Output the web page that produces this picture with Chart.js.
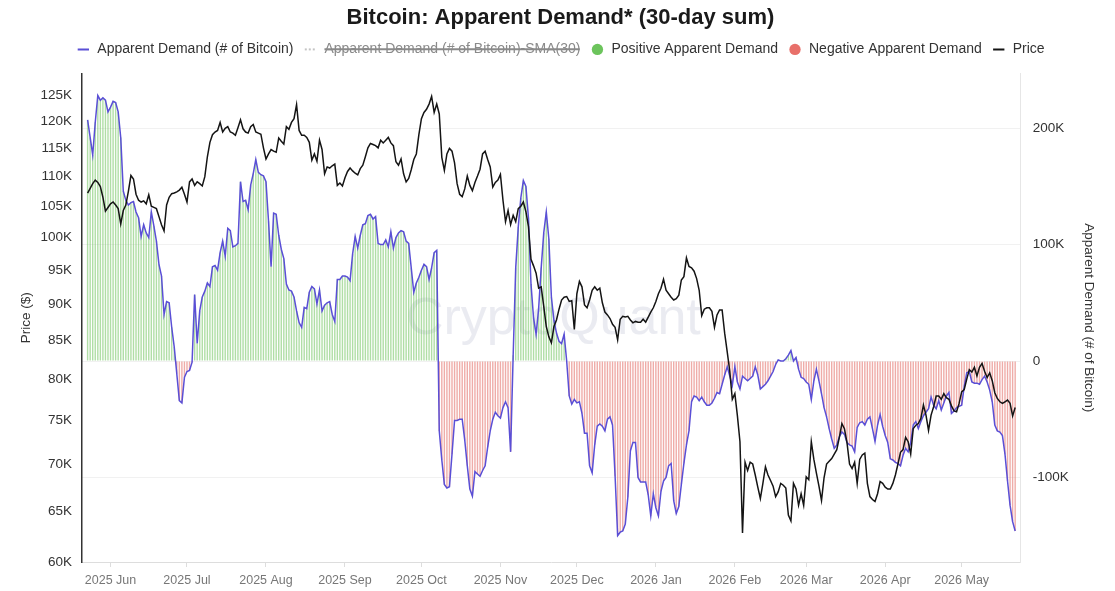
<!DOCTYPE html>
<html>
<head>
<meta charset="utf-8">
<title>Bitcoin: Apparent Demand* (30-day sum)</title>
<script src="https://cdn.jsdelivr.net/npm/chart.js@4.4.1/dist/chart.umd.min.js"></script>
<style>
  html, body { margin: 0; padding: 0; background: #fff; }
  #wrap { width: 1115px; height: 591px; }
</style>
</head>
<body>
<div id="wrap"><canvas id="demandChart"></canvas></div>
<script>
// first day of the series, one value per day after it
const startDay = "2025-05-23";

// month ticks on the x axis
const monthStarts = ["2025-06-01", "2025-07-01", "2025-08-01", "2025-09-01", "2025-10-01", "2025-11-01",
    "2025-12-01", "2026-01-01", "2026-02-01", "2026-03-01", "2026-04-01", "2026-05-01"];
const monthLabels = ["2025 Jun", "2025 Jul", "2025 Aug", "2025 Sep", "2025 Oct", "2025 Nov",
    "2025 Dec", "2026 Jan", "2026 Feb", "2026 Mar", "2026 Apr", "2026 May"];

// tick values (thousands)
const priceTicks = [60, 65, 70, 75, 80, 85, 90, 95, 100, 105, 110, 115, 120, 125];
const demandTicks = [-100, 0, 100, 200];

// Apparent demand, 30-day sum, thousands of BTC (daily)
const demandK = [
    207, 192, 177, 205, 228, 224, 226, 224, 214, 218,
    223, 222, 214, 192, 146, 138, 134, 136, 137, 128,
    123, 107, 117, 110, 106, 128, 116, 103, 83, 73,
    40, 51, 50, 29, 12, -11, -34, -36, -14, -9,
    -8, -1, 57, 15, 43, 55, 60, 67, 64, 81,
    82, 78, 93, 103, 90, 114, 112, 98, 99, 101,
    154, 137, 138, 130, 151, 161, 173, 162, 160, 159,
    154, 120, 81, 127, 126, 108, 96, 88, 66, 61,
    60, 55, 43, 33, 29, 46, 45, 59, 64, 62,
    49, 61, 43, 48, 50, 51, 40, 34, 70, 70,
    73, 73, 72, 69, 92, 107, 97, 108, 117, 118,
    125, 126, 122, 124, 101, 100, 100, 104, 98, 111,
    97, 106,
    110, 112, 111, 103, 101, 80, 59, 67, 72, 78,
    83, 81, 70, 80, 93, 95, -60, -85, -106, -109,
    -108, -80, -51, -51, -50, -50, -68, -90, -110, -116,
    -95, -97, -99, -94, -90, -74, -60, -50, -44, -47,
    -49, -40, -35, -40, -78, 5, 80, 115, 140, 155,
    150, 123, 66, 37, 23, 45, 80, 110, 128, 105,
    55, 35, 24, 17, 15, 23, 0, -30, -37, -33,
    -36, -35, -45, -62, -62, -90, -96, -72, -56, -54,
    -56, -60, -50, -48, -55, -99, -150, -147, -146, -140,
    -117, -77, -70, -70, -100, -104, -104, -104, -115, -133,
    -114, -126, -133, -112, -103, -100, -90, -88, -120, -131,
    -125, -106, -88, -72, -60, -35, -30, -31, -34, -31,
    -35, -38,
    -38, -36, -32, -27, -28, -20, -12, -5, -13, -21,
    -5, -18, -24, -13, -15, -17, -15, -13, -5, -12,
    -24, -22, -20, -17, -13, -9, -3, 1, 0, 0,
    2, 5, 9, 0, 3, -7, -14, -15, -18, -20,
    -33, -17, -7, -17, -28, -40, -48, -58, -67, -75,
    -72, -65, -61, -63, -70, -72, -73, -78, -57, -53,
    -52, -55, -50, -48, -58, -69, -55, -46, -56, -64,
    -70, -84, -85, -87, -88, -90, -81, -75, -78, -70,
    -55, -52, -58, -52, -47, -44, -41, -31, -38, -41,
    -34, -42, -36, -30, -27, -45, -43, -40, -39, -38,
    -22, -10, -9, -18, -19, -19, -20, -16, -13, -18,
    -25, -35, -55, -60, -61, -64, -80, -103, -124, -138,
    -146
];

// BTC price, thousands of USD (daily)
const priceK = [
    107.2, 108.0, 108.8, 109.4, 109.0, 108.3, 106.5, 104.2, 104.8, 105.4,
    105.7, 105.2, 104.6, 102.1, 104.3, 105.2, 107.5, 110.2, 109.6, 107.0,
    106.0, 105.7, 105.9, 105.4, 106.9, 105.0, 104.8, 104.6, 103.3, 102.0,
    101.0, 105.2, 106.5, 107.1, 107.2, 107.4, 107.7, 108.2, 107.0, 105.7,
    109.1, 109.6, 108.5, 109.1, 108.8, 108.4, 110.0, 113.5, 116.1, 117.5,
    118.0, 118.3, 119.8, 118.0, 118.7, 119.0, 118.0, 117.8, 117.4, 118.8,
    120.3, 118.6, 118.0, 117.8, 119.0, 119.4, 118.0, 117.8, 117.6, 115.1,
    113.1, 114.0, 114.8, 114.5, 114.3, 116.9, 116.3, 115.8, 119.0, 118.5,
    119.8, 120.5, 123.2, 118.3, 117.4, 117.4, 117.0, 116.1, 112.9, 114.0,
    112.7, 116.5, 114.8, 110.5, 111.7, 111.5, 111.9, 112.2, 108.5, 108.9,
    108.4, 109.8, 110.9, 111.5, 111.0, 110.6, 110.3, 111.4, 112.0, 113.5,
    115.1, 115.9, 115.7, 115.5, 115.1, 116.5, 116.0, 116.5, 117.0, 116.0,
    115.5, 112.6,
    112.0, 113.1, 110.5, 109.1, 109.7, 111.2, 113.0, 114.0, 117.5, 120.5,
    121.7, 122.3, 123.3, 124.8, 121.7, 123.3, 121.4, 113.4, 111.1, 114.0,
    115.0, 114.5, 112.4, 108.8, 107.0, 106.6, 107.9, 110.1, 108.5, 107.6,
    109.0, 110.1, 111.3, 114.0, 114.5, 113.0, 111.7, 108.2, 109.0, 109.4,
    110.4, 106.0, 102.5, 104.3, 102.0, 103.5, 102.5, 104.6, 105.0, 105.7,
    104.1, 101.7, 96.6, 95.6, 94.5, 92.3, 92.5, 89.7, 86.9, 85.5,
    84.7, 86.9, 87.8, 89.3, 90.6, 91.0, 91.1, 90.4, 90.5, 86.5,
    91.5, 93.3, 92.5, 89.9, 89.5, 90.6, 92.0, 92.5, 92.0, 92.3,
    90.2, 88.9, 88.5, 88.0, 87.2, 86.8, 85.1, 87.9, 88.3, 88.2,
    88.3, 87.8, 87.4, 87.6, 87.5, 87.5, 87.9, 87.5, 88.2, 88.9,
    89.5, 90.4, 91.5, 92.3, 93.6, 92.0, 91.5, 91.0, 90.6, 90.8,
    91.3, 93.5, 94.0, 96.8, 95.5, 95.3, 94.8, 93.7, 92.0, 88.4,
    89.3, 89.5,
    89.5, 89.0, 86.8, 88.5, 89.2, 89.2, 86.0, 83.5, 81.0, 77.5,
    78.2, 75.5, 72.5, 62.8, 70.2, 69.3, 70.2, 70.0, 68.8, 67.5,
    66.3, 67.9, 69.7, 68.8, 68.2, 67.6, 66.5, 67.0, 67.9, 67.7,
    67.4, 64.6, 64.0, 67.9, 67.3, 65.6, 66.8, 65.6, 68.6, 68.3,
    72.5, 70.5, 69.0, 67.6, 66.1, 68.5, 70.0, 70.3, 70.6, 71.1,
    71.6, 73.0, 74.6, 74.0, 72.4, 70.0, 69.5, 70.2, 67.9, 70.5,
    71.0, 71.2, 67.9, 66.5, 66.2, 66.0, 66.8, 68.1, 67.9, 67.5,
    67.3, 67.3, 67.9, 68.8, 70.0, 71.3, 71.6, 73.0, 72.5, 71.1,
    74.0, 74.4, 74.6, 75.2, 76.8, 75.6, 73.8, 75.6, 76.6, 77.9,
    77.9, 77.5, 78.2, 77.7, 77.5, 76.7, 76.1, 76.0, 77.0, 78.4,
    78.7, 80.0, 81.2, 80.9, 81.5, 80.4, 81.5, 82.0, 81.0, 80.2,
    80.8, 79.8, 78.3, 77.6, 77.2, 77.0, 77.2, 77.4, 77.0, 75.5,
    76.5
];

document.addEventListener("DOMContentLoaded", () => {
    const DAY = 86400000;
    const t0 = Date.parse(startDay);
    const monthDays = monthStarts.map(d => Math.round((Date.parse(d) - t0) / DAY));

    const demandPts = demandK.map((v, i) => ({ x: i, y: v }));
    const pricePts = priceK.map((v, i) => ({ x: i, y: v }));
    const positivePts = demandK.map((v, i) => ({ x: i, y: v > 0 ? v : null }));
    const negativePts = demandK.map((v, i) => ({ x: i, y: v < 0 ? v : null }));

    const fontFamily = '"Liberation Sans", Arial, sans-serif';
    Chart.defaults.font.family = fontFamily;
    Chart.defaults.color = "#333";

    // faint watermark in the middle of the plot
    const watermark = {
        id: "watermark",
        beforeDatasetsDraw(chart) {
            const { ctx, chartArea: a } = chart;
            ctx.save();
            ctx.font = "52px " + fontFamily;
            ctx.fillStyle = "rgba(196, 198, 214, 0.35)";
            ctx.textAlign = "center";
            ctx.textBaseline = "middle";
            ctx.fillText("CryptoQuant", (a.left + a.right) / 2 + 2, (a.top + a.bottom) / 2 + 2);
            ctx.restore();
        }
    };

    // a little room under the legend
    const legendGap = {
        id: "legendGap",
        beforeInit(chart) {
            const fit = chart.legend.fit;
            chart.legend.fit = function () {
                fit.call(this);
                this.height += 7;
            };
        }
    };

    const ctx = document.getElementById("demandChart").getContext("2d");
    new Chart(ctx, {
        type: "bar",
        data: {
            datasets: [
                {
                    type: "line",
                    label: "Apparent Demand (# of Bitcoin)",
                    data: demandPts,
                    yAxisID: "y1",
                    borderColor: "#5a4fd6",
                    backgroundColor: "#5a4fd6",
                    borderWidth: 1.5,
                    pointRadius: 0,
                    tension: 0,
                    pointStyle: "line",
                    order: 1
                },
                {
                    type: "line",
                    label: "Apparent Demand (# of Bitcoin)-SMA(30)",
                    data: [],
                    hidden: true,
                    yAxisID: "y1",
                    borderColor: "#c4c4c4",
                    backgroundColor: "#c4c4c4",
                    borderDash: [2, 2],
                    borderWidth: 1.5,
                    pointRadius: 0,
                    pointStyle: "line",
                    order: 2
                },
                {
                    label: "Positive Apparent Demand",
                    data: positivePts,
                    yAxisID: "y1",
                    backgroundColor: "rgba(112, 194, 92, 0.55)",
                    borderWidth: 0,
                    grouped: false,
                    barPercentage: 0.55,
                    categoryPercentage: 1,
                    pointStyle: "circle",
                    order: 3
                },
                {
                    label: "Negative Apparent Demand",
                    data: negativePts,
                    yAxisID: "y1",
                    backgroundColor: "rgba(226, 104, 96, 0.55)",
                    borderWidth: 0,
                    grouped: false,
                    barPercentage: 0.55,
                    categoryPercentage: 1,
                    pointStyle: "circle",
                    order: 3
                },
                {
                    type: "line",
                    label: "Price",
                    data: pricePts,
                    yAxisID: "y",
                    borderColor: "#141414",
                    backgroundColor: "#141414",
                    borderWidth: 1.5,
                    pointRadius: 0,
                    tension: 0,
                    pointStyle: "line",
                    order: 0
                }
            ]
        },
        options: {
            responsive: true,
            maintainAspectRatio: false,
            animation: false,
            layout: { padding: { left: 18, right: 12, top: 0, bottom: -3 } },
            plugins: {
                title: {
                    display: true,
                    text: "Bitcoin: Apparent Demand* (30-day sum)",
                    color: "#1a1a1a",
                    font: { size: 22, weight: "bold" },
                    padding: { top: 5, bottom: 1 }
                },
                legend: {
                    labels: {
                        usePointStyle: true,
                        boxWidth: 14,
                        boxHeight: 8,
                        padding: 10,
                        color: "#333",
                        font: { size: 14 },
                        generateLabels(chart) {
                            const items = Chart.defaults.plugins.legend.labels.generateLabels(chart);
                            items.sort((a, b) => a.datasetIndex - b.datasetIndex);
                            items.forEach(it => {
                                if (it.text === "Positive Apparent Demand") {
                                    it.fillStyle = "#6cc45c";
                                    it.strokeStyle = "#6cc45c";
                                } else if (it.text === "Negative Apparent Demand") {
                                    it.fillStyle = "#e8706a";
                                    it.strokeStyle = "#e8706a";
                                } else {
                                    it.lineWidth = 2;
                                }
                                if (it.hidden) {
                                    it.fontColor = "#8a8a8a";
                                    it.lineDash = [2, 2];
                                }
                            });
                            return items;
                        }
                    },
                    onClick: () => {}
                },
                tooltip: { enabled: false }
            },
            scales: {
                x: {
                    type: "linear",
                    offset: false,
                    min: -2.2,
                    max: 366.2,
                    afterBuildTicks(scale) {
                        scale.ticks = monthDays.map(v => ({ value: v }));
                    },
                    ticks: {
                        autoSkip: false,
                        maxRotation: 0,
                        color: "#777",
                        font: { size: 12.5 },
                        padding: 6,
                        callback: v => monthLabels[monthDays.indexOf(v)]
                    },
                    grid: {
                        offset: false,
                        drawOnChartArea: false,
                        drawTicks: true,
                        tickLength: 5,
                        color: "#dddddd"
                    },
                    border: { color: "#dddddd" }
                },
                y: {
                    type: "logarithmic",
                    position: "left",
                    min: 60,
                    max: 129.4,
                    afterBuildTicks(scale) {
                        scale.ticks = priceTicks.map(v => ({ value: v }));
                    },
                    afterFit(scale) {
                        scale.width = 64;
                    },
                    ticks: {
                        color: "#333",
                        font: { size: 13.5 },
                        padding: 10,
                        callback: v => v + "K"
                    },
                    grid: { display: false, drawTicks: false },
                    border: { display: true, color: "#333", width: 1.5 },
                    title: {
                        display: true,
                        text: "Price ($)",
                        color: "#333",
                        font: { size: 13.5 },
                        padding: { top: 0, bottom: 6 }
                    }
                },
                y1: {
                    type: "linear",
                    position: "right",
                    min: -172.6,
                    max: 247,
                    afterBuildTicks(scale) {
                        scale.ticks = demandTicks.map(v => ({ value: v }));
                    },
                    ticks: {
                        color: "#333",
                        font: { size: 13.5 },
                        padding: 12,
                        callback: v => (v === 0 ? "0" : v + "K")
                    },
                    grid: {
                        color: "#f1f1f1",
                        drawTicks: false
                    },
                    border: { color: "#e6e6e6" },
                    title: {
                        display: true,
                        text: "Apparent Demand (# of Bitcoin)",
                        color: "#333",
                        font: { size: 13.5 },
                        padding: { top: 6, bottom: 0 }
                    }
                }
            }
        },
        plugins: [watermark, legendGap]
    });
});
</script>
</body>
</html>
